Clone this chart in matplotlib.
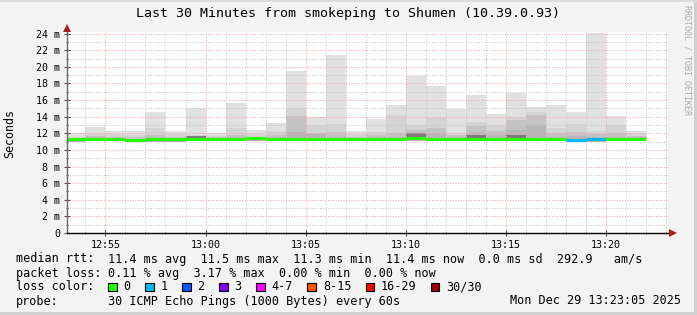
import matplotlib
matplotlib.use("Agg")
import matplotlib.pyplot as plt
from matplotlib.patches import Rectangle
from matplotlib.lines import Line2D
import numpy as np

# ---------------- data ----------------
bar_start = ["12:53:05", "12:54", "12:55", "12:56", "12:57", "12:58", "12:59",
             "13:00", "13:01", "13:02", "13:03", "13:04", "13:05", "13:06",
             "13:07", "13:08", "13:09", "13:10", "13:11", "13:12", "13:13",
             "13:14", "13:15", "13:16", "13:17", "13:18", "13:19", "13:20",
             "13:21"]
bar_last_end = "13:22"
view_start = "12:53:05"
view_end = "13:23:05"

min_ms = [10.95, 11.05, 11.05, 10.95, 11.0, 11.0, 11.05, 11.05, 11.05, 11.05,
          11.05, 11.05, 11.05, 11.05, 11.05, 11.05, 11.05, 11.1, 11.05, 11.05,
          11.05, 11.05, 11.05, 11.05, 11.05, 11.0, 11.0, 11.05, 11.05]
max_ms = [12.1, 12.8, 12.25, 12.25, 14.6, 12.25, 15.05, 12.0, 15.7, 12.4,
          13.25, 19.55, 13.95, 21.45, 12.25, 13.7, 15.4, 18.9, 17.75, 14.9,
          16.6, 14.3, 16.8, 15.15, 15.4, 14.55, 24.08, 14.05, 12.3]
p2_ms = [11.6, 12.0, 11.9, 11.8, 12.65, 11.9, 11.8, 11.7, 12.65, 11.9,
         12.25, 15.1, 13.0, 13.1, 11.9, 12.15, 14.25, 13.0, 13.9, 12.1,
         13.4, 13.05, 13.95, 14.6, 12.65, 13.15, 12.3, 13.0, 12.0]
p3_ms = [11.4, 11.7, 11.6, 11.5, 11.8, 11.6, 11.6, 11.5, 11.8, 11.6,
         11.8, 14.1, 12.05, 12.2, 11.6, 11.8, 12.0, 12.4, 12.7, 11.8,
         12.9, 12.3, 13.6, 14.2, 12.0, 12.2, 11.9, 12.0, 11.7]
p4_ms = [11.3, 11.5, 11.4, 11.3, 11.5, 11.4, 11.4, 11.4, 11.5, 11.4,
         11.5, 12.2, 11.9, 11.6, 11.4, 11.5, 11.6, 11.9, 12.0, 11.5,
         12.2, 11.8, 12.4, 13.0, 11.6, 11.7, 11.6, 11.6, 11.5]
dark_ms = [np.nan, np.nan, np.nan, np.nan, np.nan, np.nan, 11.7, np.nan,
           np.nan, np.nan, np.nan, np.nan, np.nan, np.nan, np.nan, np.nan,
           np.nan, 12.1, np.nan, np.nan, 11.85, np.nan, 11.8, np.nan, np.nan,
           np.nan, np.nan, np.nan, np.nan]
median_ms = [11.3, 11.36, 11.36, 11.2, 11.33, 11.36, 11.36, 11.33, 11.33,
             11.38, 11.33, 11.33, 11.33, 11.33, 11.33, 11.33, 11.33, 11.45,
             11.36, 11.33, 11.36, 11.33, 11.33, 11.3, 11.3, 11.2, 11.3, 11.33,
             11.33]
lost_pings = [0, 0, 0, 0, 0, 0, 0, 0, 0, 0, 0, 0, 0, 0, 0, 0, 0, 0, 0, 0,
              0, 0, 0, 0, 0, 1, 1, 0, 0]

loss_labels = ["0", "1", "2", "3", "4-7", "8-15", "16-29", "30/30"]
loss_colors = ["#26ff00", "#00b8ff", "#0059ff", "#7e00ff", "#ff00ff",
               "#ff5500", "#ff0000", "#a10000"]

xtick_labels = ["12:55", "13:00", "13:05", "13:10", "13:15", "13:20"]
ytick_values = [0, 2, 4, 6, 8, 10, 12, 14, 16, 18, 20, 22, 24]
ytick_labels = ["0", "2 m", "4 m", "6 m", "8 m", "10 m", "12 m", "14 m",
                "16 m", "18 m", "20 m", "22 m", "24 m"]

title = "Last 30 Minutes from smokeping to Shumen (10.39.0.93)"
ylabel = "Seconds"
row_median = ("median rtt:", "11.4 ms avg  11.5 ms max  11.3 ms min  11.4 ms now  0.0 ms sd  292.9   am/s")
row_loss = ("packet loss:", "0.11 % avg  3.17 % max  0.00 % min  0.00 % now")
row_color = "loss color:"
row_probe = ("probe:", "30 ICMP Echo Pings (1000 Bytes) every 60s")
date_text = "Mon Dec 29 13:23:05 2025"
watermark = "RRDTOOL / TOBI OETIKER"


def tmin(s):
    p = [int(v) for v in s.split(":")]
    while len(p) < 3:
        p.append(0)
    return p[0] * 60 + p[1] + p[2] / 60.0


# ---------------- figure ----------------
W, H, DPI = 697, 315, 100
MONO = "DejaVu Sans Mono"
plt.rcParams["font.family"] = MONO
fig = plt.figure(figsize=(W / DPI, H / DPI), dpi=DPI, facecolor="#f3f3f3")


def fx(px):
    return px / W


def fy(py):
    return 1 - py / H


ax_l, ax_r, ax_t, ax_b = 67, 668, 32, 233
ax = fig.add_axes([fx(ax_l), fy(ax_b), (ax_r - ax_l) / W, (ax_b - ax_t) / H])
ax.set_facecolor("white")

xs = np.array([tmin(s) for s in bar_start])
xe = np.append(xs[1:], tmin(bar_last_end))
widths = xe - xs
mn = np.array(min_ms)

layers = [(max_ms, "#e1e1e1"), (p2_ms, "#d4d4d4"), (p3_ms, "#c3c3c3"),
          (p4_ms, "#b6b6b6")]
for vals, col in layers:
    v = np.array(vals)
    ax.bar(xs, v - mn, bottom=mn, width=widths, align="edge", color=col,
           linewidth=0, zorder=1)
dk = np.array(dark_ms)
med = np.array(median_ms)
ok = ~np.isnan(dk)
ax.bar(xs[ok], dk[ok] - med[ok], bottom=med[ok], width=widths[ok],
       align="edge", color="#7c7c7c", linewidth=0, zorder=1.2)

ax.set_xlim(tmin(view_start), tmin(view_end))
ax.set_ylim(0, 24.2)

# grid
xt = [tmin(s) for s in xtick_labels]
ax.set_xticks(xt)
ax.set_xticklabels(xtick_labels)
ax.set_xticks(np.arange(np.ceil(tmin(view_start)), tmin(view_end), 1.0), minor=True)
ax.set_yticks(ytick_values)
ax.set_yticklabels(ytick_labels)
ax.set_yticks(np.arange(1, 24.2, 2.0), minor=True)
ax.set_axisbelow(False)
ax.grid(which="major", color="#f0a8a8", linestyle=(0, (1, 1.5)), linewidth=0.75)
ax.grid(which="minor", color="#c9c9c9", linestyle=(0, (1, 1.5)), linewidth=0.75)

# median line
for i in range(len(xs)):
    ax.hlines(median_ms[i], xs[i], xe[i], colors=loss_colors[lost_pings[i]],
              linewidth=2.2, zorder=3, capstyle="butt")

for s in ax.spines.values():
    s.set_visible(False)
ax.tick_params(axis="both", which="both", colors="#555555", labelcolor="black",
               labelsize=7.2, direction="inout")
ax.tick_params(axis="y", which="major", length=4, width=0.8, pad=3)
ax.tick_params(axis="y", which="minor", length=2, width=0.8)
ax.tick_params(axis="x", which="major", length=4, width=0.8, pad=3)
ax.tick_params(axis="x", which="minor", length=2, width=0.8)

# axis lines with arrows
ax.add_line(Line2D([0, 0], [0, 1.0 + 4 / 201], transform=ax.transAxes,
                   color="#666666", lw=1.0, clip_on=False, zorder=4))
ax.add_line(Line2D([0, 1.0 + 4 / 601], [0, 0], transform=ax.transAxes,
                   color="black", lw=1.0, clip_on=False, zorder=4))
ax.plot([0], [1.0 + 4 / 201], marker="^", ms=5.5, color="#a02020",
        transform=ax.transAxes, clip_on=False, zorder=5, mew=0)
ax.plot([1.0 + 5 / 601], [0], marker=">", ms=5.5, color="#a02020",
        transform=ax.transAxes, clip_on=False, zorder=5, mew=0)

# texts
fig.text(fx(348.5), fy(13), title, ha="center", va="center", fontsize=9.6)
fig.text(fx(10), fy(133), ylabel, ha="center", va="center", rotation=90,
         fontsize=8.4)
fig.text(fx(687), fy(5), watermark, ha="center", va="top", rotation=270,
         fontsize=6.0, color="#aaaaaa")

LS = 8.43
rows_y = [259, 273, 287, 301]
fig.text(fx(16), fy(rows_y[0]), row_median[0], ha="left", va="center", fontsize=LS)
fig.text(fx(108), fy(rows_y[0]), row_median[1], ha="left", va="center", fontsize=LS)
fig.text(fx(16), fy(rows_y[1]), row_loss[0], ha="left", va="center", fontsize=LS)
fig.text(fx(108), fy(rows_y[1]), row_loss[1], ha="left", va="center", fontsize=LS)
fig.text(fx(16), fy(rows_y[2]), row_color, ha="left", va="center", fontsize=LS)
fig.text(fx(16), fy(rows_y[3]), row_probe[0], ha="left", va="center", fontsize=LS)
fig.text(fx(108), fy(rows_y[3]), row_probe[1], ha="left", va="center", fontsize=LS)
fig.text(fx(681), fy(rows_y[3]), date_text, ha="right", va="center", fontsize=LS)

cw = 7.05
px = 108.0
bs = 8.5
for lab, col in zip(loss_labels, loss_colors):
    fig.patches.append(Rectangle((fx(px), fy(rows_y[2] + bs / 2)), bs / W, bs / H,
                                 transform=fig.transFigure, facecolor=col,
                                 edgecolor="black", linewidth=0.8))
    fig.text(fx(px + 15.5), fy(rows_y[2]), lab, ha="left", va="center", fontsize=LS)
    px = px + 15.5 + len(lab) * cw + 14.5

# frame shading
fig.patches.append(Rectangle((fx(W - 3), 0), fx(3), 1, transform=fig.transFigure,
                             facecolor="#cfcfcf", edgecolor="none"))
fig.patches.append(Rectangle((0, 0), 1, 3 / H, transform=fig.transFigure,
                             facecolor="#cfcfcf", edgecolor="none"))
fig.patches.append(Rectangle((0, 1 - 2 / H), 1, 2 / H, transform=fig.transFigure,
                             facecolor="#dcdcdc", edgecolor="none"))

fig.savefig("out.png", dpi=DPI, facecolor=fig.get_facecolor())
